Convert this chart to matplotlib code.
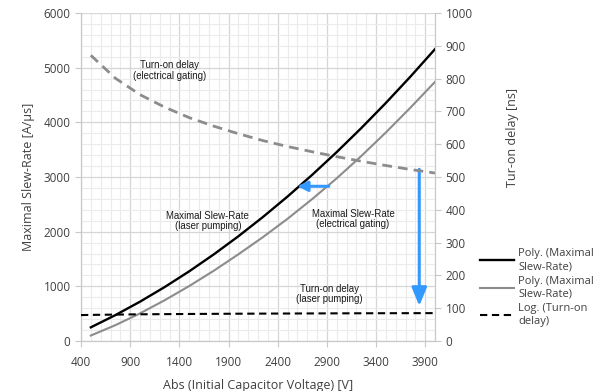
import matplotlib
matplotlib.use("Agg")
import matplotlib.pyplot as plt
from matplotlib.ticker import MultipleLocator, FixedLocator

# ---- data ----
voltage = [500, 750, 1000, 1250, 1500, 1750, 2000, 2250, 2500, 2750, 3000, 3250, 3500, 3750, 4000]
slew_laser = [250, 474, 719, 986, 1274, 1584, 1915, 2268, 2642, 3038, 3455, 3894, 4354, 4836, 5339]
slew_electrical = [100, 290, 505, 745, 1005, 1285, 1585, 1900, 2235, 2595, 2975, 3383, 3814, 4268, 4740]
delay_electrical = [871, 801, 751, 713, 681, 655, 632, 611, 593, 577, 562, 548, 535, 523, 512]
voltage_laser_delay = [400, 500, 1000, 1500, 2000, 2500, 3000, 3500, 4000]
delay_laser = [79, 79.6, 81.4, 82.4, 83.2, 83.8, 84.3, 84.7, 85]

x_ticks = [400, 900, 1400, 1900, 2400, 2900, 3400, 3900]
legend_labels = ["Poly. (Maximal\nSlew-Rate)", "Poly. (Maximal\nSlew-Rate)", "Log. (Turn-on\ndelay)"]

plt.rcParams['font.family'] = ['Open Sans', 'DejaVu Sans']
tick_color = '#404040'
spine_color = '#c8c8c8'

fig = plt.figure(figsize=(6.07, 3.91), dpi=100)
ax = fig.add_axes([81/607, 50/391, (435-81)/607, (341-13)/391])
ax2 = ax.twinx()

ax.set_xlim(400, 4000)
ax.set_ylim(0, 6000)
ax2.set_ylim(0, 1000)

ax.xaxis.set_major_locator(FixedLocator(x_ticks))
ax.xaxis.set_minor_locator(MultipleLocator(100))
ax.yaxis.set_major_locator(MultipleLocator(1000))
ax.yaxis.set_minor_locator(MultipleLocator(200))
ax2.yaxis.set_major_locator(MultipleLocator(100))

ax.grid(which='major', color='#d6d6d6', lw=0.9)
ax.grid(which='minor', color='#ebebeb', lw=0.8)
ax.set_axisbelow(True)

for a in (ax, ax2):
    for s in a.spines.values():
        s.set_color(spine_color)
    a.spines['top'].set_visible(False)
    a.tick_params(which='major', colors=spine_color, labelcolor=tick_color, labelsize=8.5, length=4, width=0.8)
    a.tick_params(which='minor', length=0)
ax.tick_params(axis='x', pad=7)

l1, = ax.plot(voltage, slew_laser, color='black', lw=1.7, zorder=4)
l2, = ax.plot(voltage, slew_electrical, color='#8c8c8c', lw=1.5, zorder=4)
ax2.plot(voltage, delay_electrical, color='#8c8c8c', lw=2.0, dashes=(3.5, 2.2), zorder=3)
l3, = ax2.plot(voltage_laser_delay, delay_laser, color='black', lw=1.5, dashes=(3.5, 2.2), zorder=3)

ax.set_xlabel("Abs (Initial Capacitor Voltage) [V]", fontsize=9, color=tick_color, labelpad=7)
ax.set_ylabel("Maximal Slew-Rate [A/µs]", fontsize=9, color=tick_color, labelpad=6)
ax2.set_ylabel("Tur-on delay [ns]", fontsize=9, color=tick_color)
ax2.yaxis.set_label_coords(1.2, 0.62)

ann = dict(fontsize=6.9, color='#1a1a1a', ha='center', va='center', family=['Liberation Sans', 'DejaVu Sans'], linespacing=1.05)
ax.text(1300, 4950, "Turn-on delay\n(electrical gating)", **ann)
ax.text(1690, 2200, "Maximal Slew-Rate\n(laser pumping)", **ann)
ax.text(3165, 2230, "Maximal Slew-Rate\n(electrical gating)", **ann)
ax.text(2930, 860, "Turn-on delay\n(laser pumping)", **ann)

blue = '#3399ff'
ax.annotate("", xy=(3840, 640), xytext=(3840, 3140),
            arrowprops=dict(arrowstyle='-|>,head_length=1.1,head_width=0.45', color=blue, lw=2.2, shrinkA=0, shrinkB=0), zorder=6)
ax.annotate("", xy=(2600, 2830), xytext=(2920, 2830),
            arrowprops=dict(arrowstyle='-|>,head_length=0.6,head_width=0.3', color=blue, lw=2.2, shrinkA=0, shrinkB=0), zorder=6)

leg = fig.legend([l1, l2, l3], legend_labels, loc='upper left', bbox_to_anchor=(476/607, 1 - 244/391),
                 frameon=False, fontsize=8, handlelength=3.0, handletextpad=0.4, labelspacing=0.35,
                 borderaxespad=0)
for t in leg.get_texts():
    t.set_color(tick_color)
    t.set_linespacing(1.2)

fig.savefig("out.png", dpi=100)
